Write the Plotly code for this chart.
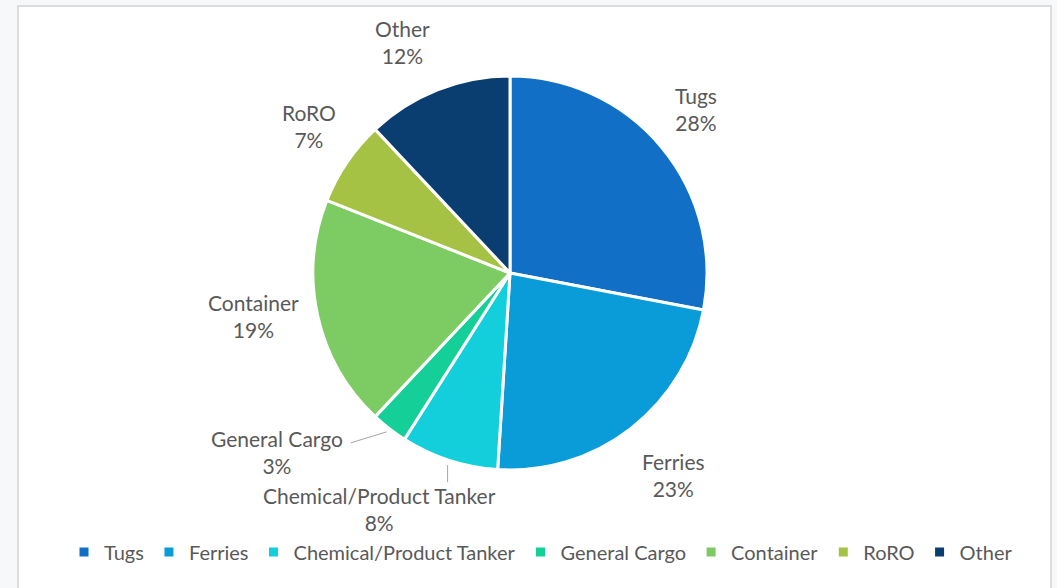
import math
import plotly.graph_objects as go

# Fleet share by vessel type (percent)
categories = ["Tugs", "Ferries", "Chemical/Product Tanker", "General Cargo",
              "Container", "RoRO", "Other"]
shares = [28, 23, 8, 3, 19, 7, 12]
colors = ["#1170C6", "#0A9CD8", "#13CFDB", "#14CF98", "#7DCB63", "#A6C245", "#0B3E70"]

W, H = 1057, 588
CX, CY, R = 510, 273, 197          # pie centre / radius in pixels
TEXT = "#595959"
FONT = "Lato"
FSIZE = 21

# label offsets from the slice's rim point (pixels, screen y downwards)
label_offset = {
    "Tugs": (34, -38),
    "Ferries": (43, 46),
    "Chemical/Product Tanker": (-70, 49),
    "General Cargo": (-112, 23),
    "Container": (-64, 0),
    "RoRO": (-38, -36),
    "Other": (-35, -48),
}


def px(x):
    return x / W


def py(y):
    return 1 - y / H


fig = go.Figure(go.Pie(
    labels=categories,
    values=shares,
    sort=False,
    direction="clockwise",
    rotation=0,
    marker=dict(colors=colors, line=dict(color="white", width=3)),
    textinfo="none",
    hoverinfo="label+percent",
    domain=dict(x=[px(CX - R), px(CX + R)], y=[py(CY + R), py(CY - R)]),
))

annotations = []
shapes = [
    # chart frame
    dict(type="rect", xref="paper", yref="paper",
         x0=px(18), x1=px(1051), y0=py(600), y1=py(6),
         line=dict(color="#DCDCDC", width=2), fillcolor="white", layer="below"),
]

total = sum(shares)
cum = 0.0
for name, v in zip(categories, shares):
    mid = (cum + v / 2) / total * 2 * math.pi
    cum += v
    ex = CX + R * math.sin(mid)
    ey = CY - R * math.cos(mid)
    dx, dy = label_offset[name]
    lx, ly = ex + dx, ey + dy
    annotations.append(dict(
        x=px(lx), y=py(ly), xref="paper", yref="paper",
        text=f"{name}<br>{round(v / total * 100)}%",
        showarrow=False, xanchor="center", yanchor="middle",
        font=dict(family=FONT, size=FSIZE, color=TEXT),
    ))
    # leader lines for the narrow slices
    if name == "General Cargo":
        sx, sy = CX + (R + 4) * math.sin(mid), CY - (R + 4) * math.cos(mid)
        shapes.append(dict(type="line", xref="paper", yref="paper",
                           x0=px(sx), y0=py(sy), x1=px(sx - 36), y1=py(sy + 11),
                           line=dict(color="#A6A6A6", width=1)))
    if name == "Chemical/Product Tanker":
        sx, sy = CX + (R + 5) * math.sin(mid), CY - (R + 5) * math.cos(mid)
        shapes.append(dict(type="line", xref="paper", yref="paper",
                           x0=px(sx), y0=py(sy), x1=px(sx), y1=py(sy + 17),
                           line=dict(color="#A6A6A6", width=1)))

fig.update_layout(
    width=W, height=H,
    margin=dict(l=0, r=0, t=0, b=0),
    paper_bgcolor="#F7F8FA",
    plot_bgcolor="white",
    font=dict(family=FONT, size=FSIZE, color=TEXT),
    showlegend=True,
    legend=dict(orientation="h", x=px(541), xanchor="center",
                y=py(552), yanchor="middle",
                font=dict(family=FONT, size=20, color=TEXT),
                itemwidth=30, traceorder="normal",
                bgcolor="rgba(0,0,0,0)"),
    annotations=annotations,
    shapes=shapes,
)

fig.write_html("out.html")
